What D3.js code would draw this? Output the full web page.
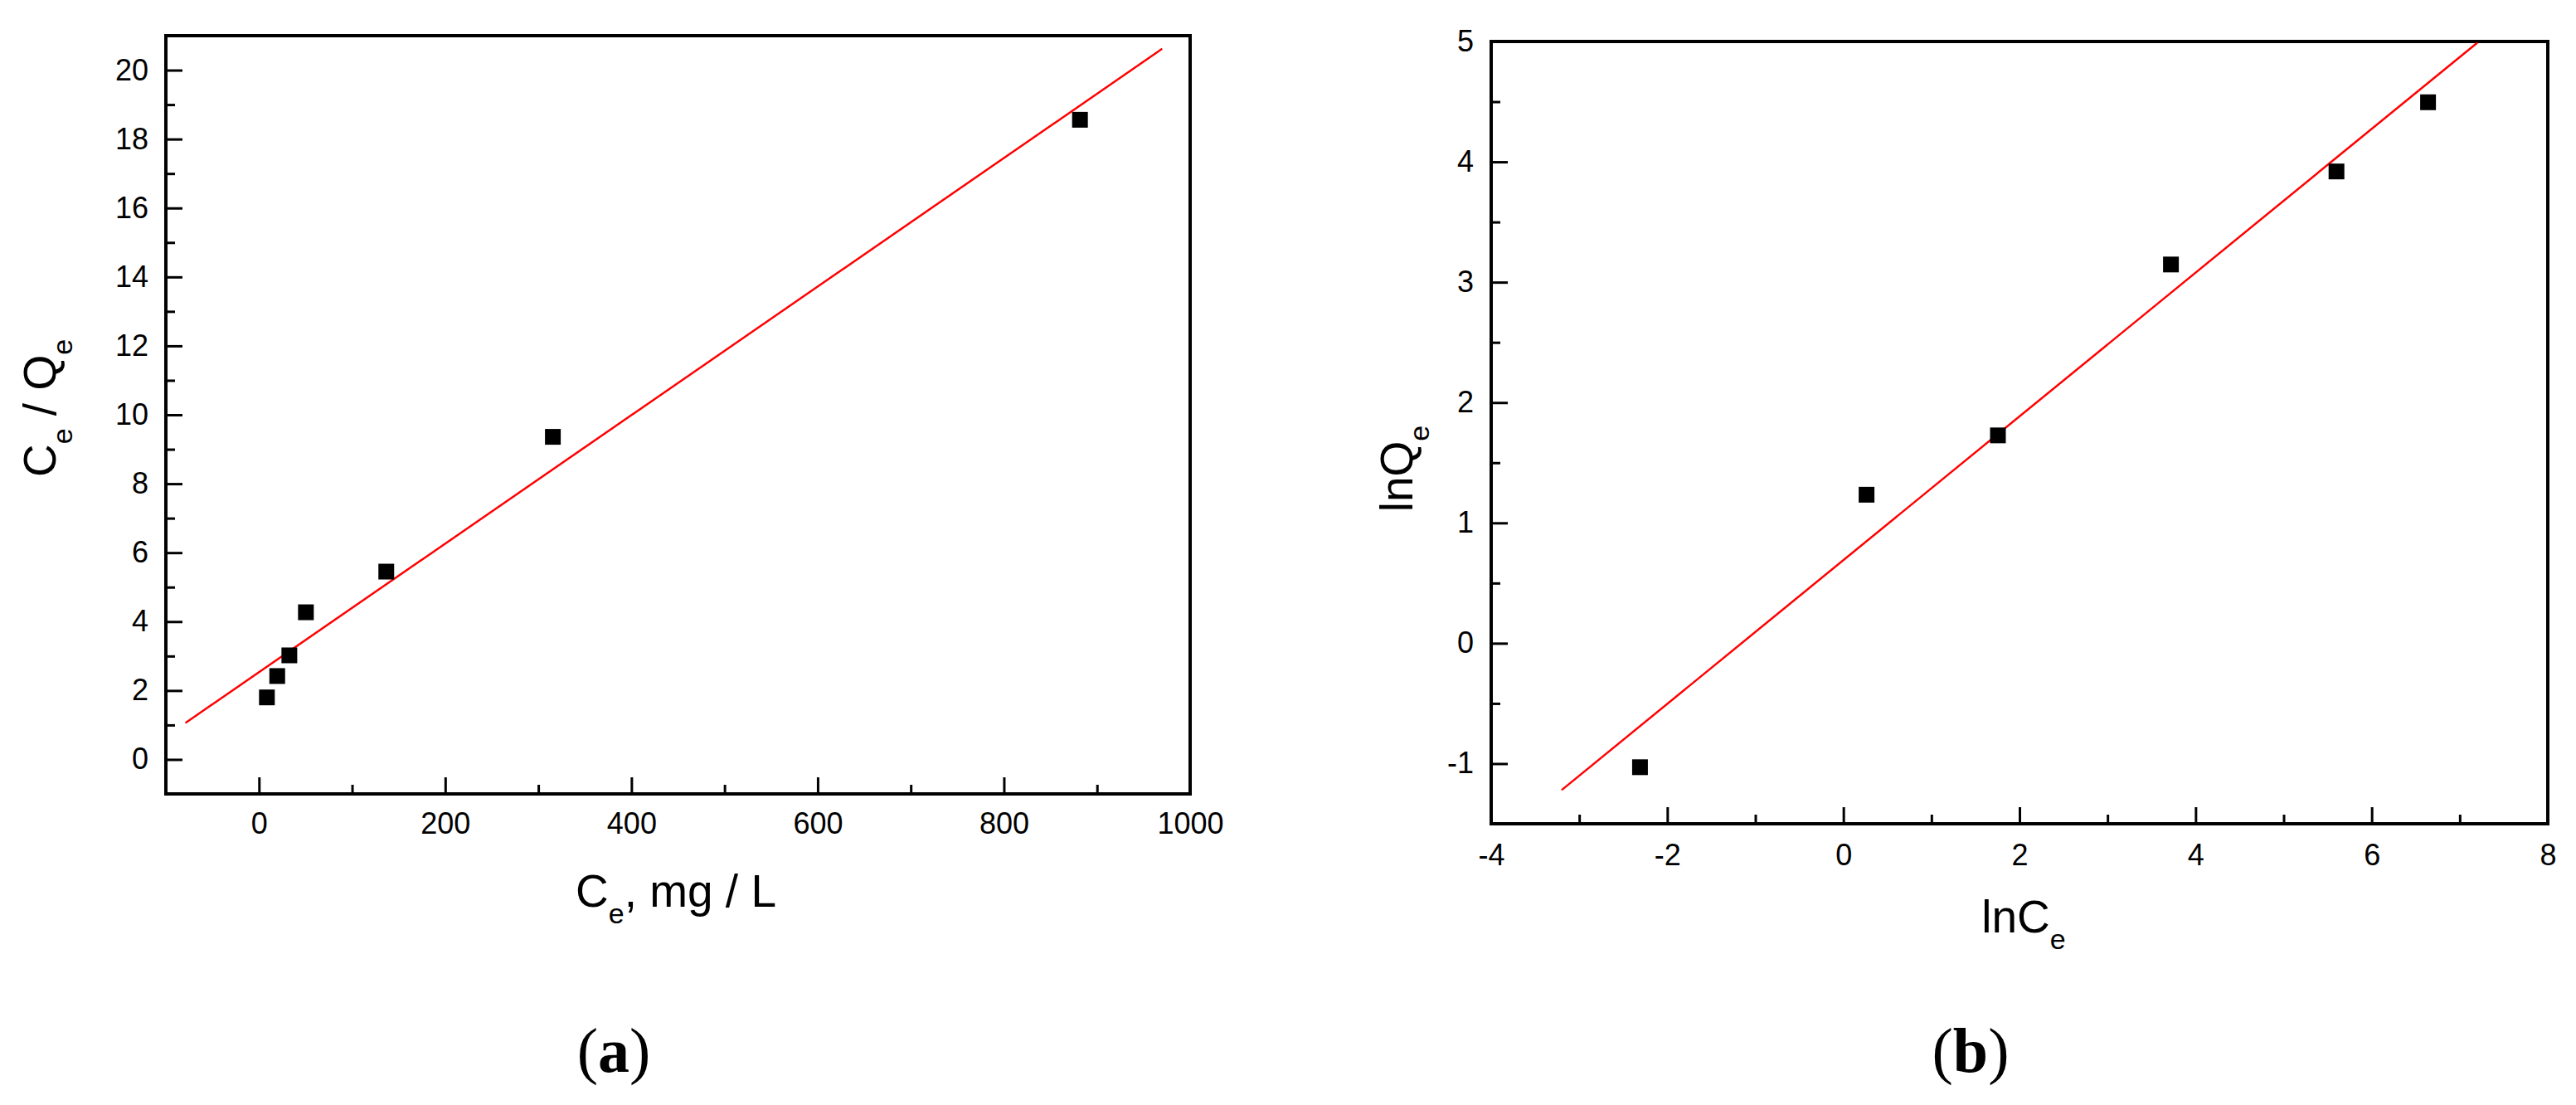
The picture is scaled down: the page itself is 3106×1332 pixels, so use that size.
<!DOCTYPE html>
<html>
<head>
<meta charset="utf-8">
<script src="https://cdn.jsdelivr.net/npm/d3@7"></script>
<style>
  html, body { margin: 0; padding: 0; background: #fff; }
  svg { display: block; }
</style>
</head>
<body>
<svg id="chart" width="3106" height="1332"></svg>
<script>
// ---------------- DATA ----------------
// Panel (a): Langmuir linearisation, Ce/Qe vs Ce
const ceA = [8.5, 19.6, 32.6, 50.4, 136.7, 315.6, 881.7];
const ceQeA = [1.80, 2.42, 3.02, 4.27, 5.45, 9.36, 18.56];
const fitA_x = [-79, 970];
const fitA_y = [1.06, 20.62];
const xTicksA = [0, 200, 400, 600, 800, 1000];
const xMinorA = [100, 300, 500, 700, 900];
const yTicksA = [0, 2, 4, 6, 8, 10, 12, 14, 16, 18, 20];
const yMinorA = [1, 3, 5, 7, 9, 11, 13, 15, 17, 19];

// Panel (b): Freundlich linearisation, lnQe vs lnCe
const lnCeB = [-2.31, 0.263, 1.755, 3.72, 5.60, 6.64];
const lnQeB = [-1.03, 1.234, 1.727, 3.147, 3.92, 4.495];
const fitB_x = [-3.2, 7.2];
const fitB_y = [-1.22, 4.99];
const xTicksB = [-4, -2, 0, 2, 4, 6, 8];
const xMinorB = [-3, -1, 1, 3, 5, 7];
const yTicksB = [-1, 0, 1, 2, 3, 4, 5];
const yMinorB = [-0.5, 0.5, 1.5, 2.5, 3.5, 4.5];

// ---------------- DRAW ----------------
const SANS = "'Liberation Sans', Arial, sans-serif";
const SERIF = "'Liberation Serif', 'Times New Roman', serif";
const svg = d3.select("#chart");
svg.append("rect").attr("width", 3106).attr("height", 1332).attr("fill", "#fff");

function panel(cfg) {
  const x = d3.scaleLinear().domain(cfg.xDomain).range([cfg.left, cfg.right]);
  const y = d3.scaleLinear().domain(cfg.yDomain).range([cfg.bottom, cfg.top]);
  const g = svg.append("g");

  // minor ticks
  g.append("g").attr("transform", `translate(0,${cfg.bottom})`)
    .call(d3.axisBottom(x).tickValues(cfg.xMinor).tickSize(-11).tickSizeOuter(0).tickFormat(""))
    .call(a => a.select(".domain").remove());
  g.append("g").attr("transform", `translate(${cfg.left},0)`)
    .call(d3.axisLeft(y).tickValues(cfg.yMinor).tickSize(-11).tickSizeOuter(0).tickFormat(""))
    .call(a => a.select(".domain").remove());

  // major ticks + labels
  const xa = g.append("g").attr("transform", `translate(0,${cfg.bottom})`)
    .call(d3.axisBottom(x).tickValues(cfg.xTicks).tickSize(-20).tickSizeOuter(0)
      .tickPadding(cfg.xPad).tickFormat(d => String(d)));
  xa.select(".domain").remove();
  const ya = g.append("g").attr("transform", `translate(${cfg.left},0)`)
    .call(d3.axisLeft(y).tickValues(cfg.yTicks).tickSize(-20).tickSizeOuter(0)
      .tickPadding(21).tickFormat(d => String(d)));
  ya.select(".domain").remove();
  g.selectAll(".tick line").attr("stroke", "#000").attr("stroke-width", 3);
  g.selectAll(".tick text").style("font-size", "36px")
    .style("font-family", SANS).attr("fill", "#000");

  // frame
  g.append("rect")
    .attr("x", cfg.left).attr("y", cfg.top)
    .attr("width", cfg.right - cfg.left).attr("height", cfg.bottom - cfg.top)
    .attr("fill", "none").attr("stroke", "#000").attr("stroke-width", 4);

  // fit line
  const line = d3.line().x(d => x(d[0])).y(d => y(d[1]));
  g.append("path")
    .datum(cfg.fitX.map((v, i) => [v, cfg.fitY[i]]))
    .attr("d", line).attr("fill", "none").attr("stroke", "#ff0000").attr("stroke-width", 2.5);

  // points
  const s = 19;
  g.selectAll("rect.pt").data(cfg.px.map((v, i) => [v, cfg.py[i]])).enter()
    .append("rect").attr("class", "pt")
    .attr("x", d => x(d[0]) - s / 2).attr("y", d => y(d[1]) - s / 2)
    .attr("width", s).attr("height", s).attr("fill", "#000");

  // x label
  const xl = g.append("text").attr("x", cfg.xLabelX).attr("y", cfg.xLabelY)
    .attr("text-anchor", "middle").style("font-size", "55px").style("font-family", SANS);
  cfg.xLabel.forEach(p => {
    const t = xl.append("tspan").text(p.t);
    if (p.sub) t.style("font-size", "34px").attr("dy", 20);
    else if (p.back) t.attr("dy", -20);
  });

  // y label
  const yl = g.append("text")
    .attr("transform", `translate(${cfg.yLabelX},${cfg.yLabelY}) rotate(-90)`)
    .attr("text-anchor", "middle").style("font-size", "55px").style("font-family", SANS);
  cfg.yLabel.forEach(p => {
    const t = yl.append("tspan").text(p.t);
    if (p.sub) t.style("font-size", "34px").attr("dy", 20);
    else if (p.back) t.attr("dy", -20);
  });

  // panel caption
  const cap = svg.append("text").attr("x", cfg.capX).attr("y", 1292)
    .attr("text-anchor", "middle").style("font-size", "76px").style("font-family", SERIF);
  cap.append("tspan").text("(");
  cap.append("tspan").style("font-weight", "bold").text(cfg.cap);
  cap.append("tspan").text(")");
}

panel({
  xDomain: [-100, 1000], yDomain: [-1, 21],
  left: 200, right: 1435, top: 43, bottom: 957,
  xTicks: xTicksA, xMinor: xMinorA, yTicks: yTicksA, yMinor: yMinorA, xPad: 22,
  px: ceA, py: ceQeA, fitX: fitA_x, fitY: fitA_y,
  xLabel: [{t: "C"}, {t: "e", sub: true}, {t: ", mg / L", back: true}],
  xLabelX: 815, xLabelY: 1093,
  yLabel: [{t: "C"}, {t: "e", sub: true}, {t: " / Q", back: true}, {t: "e", sub: true}],
  yLabelX: 67, yLabelY: 492,
  capX: 740, cap: "a"
});

panel({
  xDomain: [-4, 8], yDomain: [-1.5, 5],
  left: 1798, right: 3072, top: 50, bottom: 993,
  xTicks: xTicksB, xMinor: xMinorB, yTicks: yTicksB, yMinor: yMinorB, xPad: 24,
  px: lnCeB, py: lnQeB, fitX: fitB_x, fitY: fitB_y,
  xLabel: [{t: "lnC"}, {t: "e", sub: true}],
  xLabelX: 2440, xLabelY: 1124,
  yLabel: [{t: "lnQ"}, {t: "e", sub: true}],
  yLabelX: 1703, yLabelY: 565,
  capX: 2376, cap: "b"
});
</script>
</body>
</html>
